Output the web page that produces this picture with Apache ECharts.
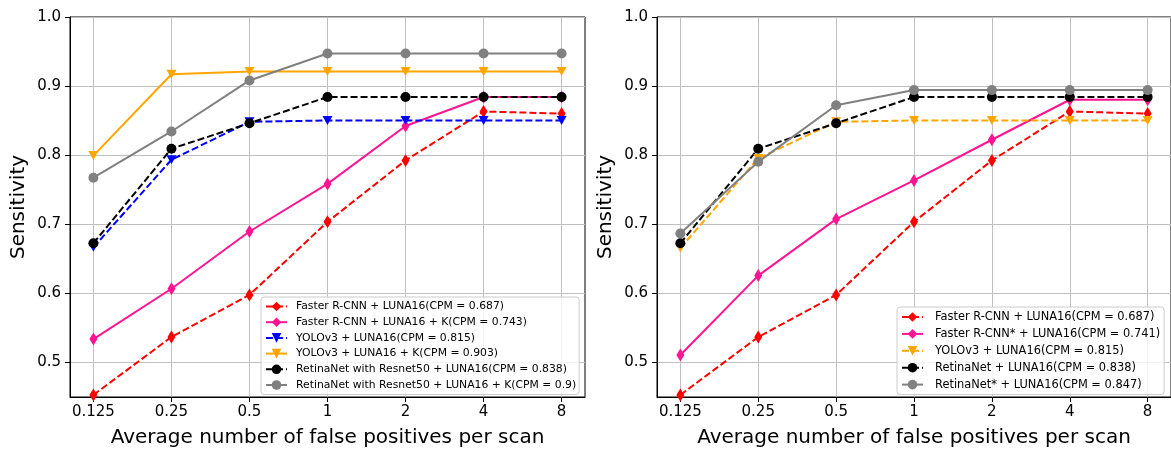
<!DOCTYPE html>
<html><head><meta charset="utf-8">
<script src="https://cdn.jsdelivr.net/npm/echarts@6/dist/echarts.min.js"></script>
<style>html,body{margin:0;padding:0;background:#fff}#c{width:1171px;height:453px}</style>
</head><body><div id="c"></div>
<script>
const xLabels = ['0.125', '0.25', '0.5', '1', '2', '4', '8'];
const yTicks = [0.5, 0.6, 0.7, 0.8, 0.9, 1.0];

// Left panel
const leftNames = [
  'Faster R-CNN + LUNA16(CPM = 0.687)',
  'Faster R-CNN + LUNA16 + K(CPM = 0.743)',
  'YOLOv3 + LUNA16(CPM = 0.815)',
  'YOLOv3 + LUNA16 + K(CPM = 0.903)',
  'RetinaNet with Resnet50 + LUNA16(CPM = 0.838)',
  'RetinaNet with Resnet50 + LUNA16 + K(CPM = 0.9)'
];
const leftFRCNN   = [0.452, 0.536, 0.597, 0.703, 0.792, 0.863, 0.860];
const leftFRCNNK  = [0.533, 0.606, 0.689, 0.758, 0.842, 0.884, 0.884];
const leftYOLO    = [0.666, 0.793, 0.848, 0.850, 0.850, 0.850, 0.850];
const leftYOLOK   = [0.799, 0.917, 0.921, 0.921, 0.921, 0.921, 0.921];
const leftRetina  = [0.672, 0.809, 0.846, 0.884, 0.884, 0.884, 0.884];
const leftRetinaK = [0.767, 0.834, 0.908, 0.947, 0.947, 0.947, 0.947];

// Right panel
const rightNames = [
  'Faster R-CNN + LUNA16(CPM = 0.687)',
  'Faster R-CNN* + LUNA16(CPM = 0.741)',
  'YOLOv3 + LUNA16(CPM = 0.815)',
  'RetinaNet + LUNA16(CPM = 0.838)',
  'RetinaNet* + LUNA16(CPM = 0.847)'
];
const rightFRCNN     = [0.452, 0.536, 0.597, 0.703, 0.792, 0.863, 0.860];
const rightFRCNNStar = [0.510, 0.625, 0.707, 0.763, 0.822, 0.880, 0.880];
const rightYOLO      = [0.665, 0.795, 0.848, 0.850, 0.850, 0.850, 0.850];
const rightRetina    = [0.672, 0.809, 0.846, 0.884, 0.884, 0.884, 0.884];
const rightRetinaStar= [0.686, 0.790, 0.872, 0.894, 0.894, 0.894, 0.894];

// internal ids so that the two legends do not share series with equal names
const ZW = '\u200b';
const rightIds = rightNames.map(n => n + ZW);

const FONT = 'DejaVu Sans';
const SYM = {
  diamond: { symbol: 'diamond', symbolSize: [8, 13], symbolRotate: 0 },
  tri: { symbol: 'triangle', symbolSize: [10, 9], symbolRotate: 180 },
  circle: { symbol: 'circle', symbolSize: 10, symbolRotate: 0 }
};
function mk(name, vals, color, dashed, sym, idx) {
  const s = SYM[sym];
  return {
    type: 'line', name: name, xAxisIndex: idx, yAxisIndex: idx,
    data: vals.map((v, i) => [i, v]),
    symbol: s.symbol, symbolSize: s.symbolSize, symbolRotate: s.symbolRotate,
    showSymbol: true,
    lineStyle: { color: color, width: 2, type: dashed ? [7, 3] : 'solid' },
    itemStyle: { color: color, borderWidth: 0 },
    emphasis: { disabled: true },
    animation: false
  };
}

const xIdx = xLabels.map((_, i) => i);
function xAxis(gi) {
  return {
    type: 'value', gridIndex: gi, min: -0.3, max: 6.3,
    axisLine: { show: true, onZero: false, lineStyle: { color: '#000', width: 1 } },
    axisTick: { show: true, inside: false, length: 5, customValues: xIdx, lineStyle: { color: '#000' } },
    axisLabel: { customValues: xIdx, formatter: v => xLabels[Math.round(v)], color: '#000', fontFamily: FONT, fontSize: 15, margin: 8 },
    splitLine: { show: true, lineStyle: { color: '#c0c0c0', width: 1 } },
    name: 'Average number of false positives per scan', nameLocation: 'middle', nameGap: 31,
    nameTextStyle: { color: '#000', fontFamily: FONT, fontSize: 20 }
  };
}
function yAxis(gi) {
  return {
    type: 'value', gridIndex: gi, min: 0.449, max: 1.0,
    axisLine: { show: true, onZero: false, lineStyle: { color: '#000', width: 1 } },
    axisTick: { show: true, inside: false, length: 5, customValues: yTicks, lineStyle: { color: '#000' } },
    axisLabel: { customValues: yTicks, formatter: v => v.toFixed(1), color: '#000', fontFamily: FONT, fontSize: 15, margin: 9 },
    splitLine: { show: true, lineStyle: { color: '#c0c0c0', width: 1 } },
    name: 'Sensitivity', nameLocation: 'middle', nameGap: 41,
    nameTextStyle: { color: '#000', fontFamily: FONT, fontSize: 20 }
  };
}

const series = [
  mk(leftNames[0], leftFRCNN, '#ff0000', true, 'diamond', 0),
  mk(leftNames[1], leftFRCNNK, '#ff1493', false, 'diamond', 0),
  mk(leftNames[2], leftYOLO, '#0000ff', true, 'tri', 0),
  mk(leftNames[3], leftYOLOK, '#ffa500', false, 'tri', 0),
  mk(leftNames[4], leftRetina, '#000000', true, 'circle', 0),
  mk(leftNames[5], leftRetinaK, '#808080', false, 'circle', 0),
  mk(rightIds[0], rightFRCNN, '#ff0000', true, 'diamond', 1),
  mk(rightIds[1], rightFRCNNStar, '#ff1493', false, 'diamond', 1),
  mk(rightIds[2], rightYOLO, '#ffa500', true, 'tri', 1),
  mk(rightIds[3], rightRetina, '#000000', true, 'circle', 1),
  mk(rightIds[4], rightRetinaStar, '#808080', false, 'circle', 1)
];

const chart = echarts.init(document.getElementById('c'), null, { renderer: 'canvas' });
chart.setOption({
  backgroundColor: '#fff',
  animation: false,
  grid: [
    { left: 70, top: 17, width: 515, height: 383, show: true, borderColor: '#000', borderWidth: 1, backgroundColor: 'transparent' },
    { left: 657, top: 17, width: 515, height: 383, show: true, borderColor: '#000', borderWidth: 1, backgroundColor: 'transparent' }
  ],
  xAxis: [xAxis(0), xAxis(1)],
  yAxis: [yAxis(0), yAxis(1)],
  legend: [
    {
      data: leftNames, orient: 'vertical', left: 261, top: 297,
      itemWidth: 21, itemHeight: 12, itemGap: 2.7,
      padding: [3, 3, 3, 4],
      backgroundColor: 'rgba(255,255,255,0.8)', borderColor: '#cccccc', borderWidth: 1, borderRadius: 3,
      textStyle: { fontFamily: FONT, fontSize: 10.8, color: '#000', lineHeight: 13, padding: [0, 0, 0, 4] },
      selectedMode: false
    },
    {
      data: rightIds, orient: 'vertical', left: 897, top: 307,
      formatter: n => n.replace(ZW, ''),
      itemWidth: 21, itemHeight: 12, itemGap: 2.9,
      padding: [3, 4, 3, 4],
      backgroundColor: 'rgba(255,255,255,0.8)', borderColor: '#cccccc', borderWidth: 1, borderRadius: 3,
      textStyle: { fontFamily: FONT, fontSize: 11.4, color: '#000', lineHeight: 14, padding: [0, 0, 0, 7] },
      selectedMode: false
    }
  ],
  series: series
});
</script>
</body></html>
